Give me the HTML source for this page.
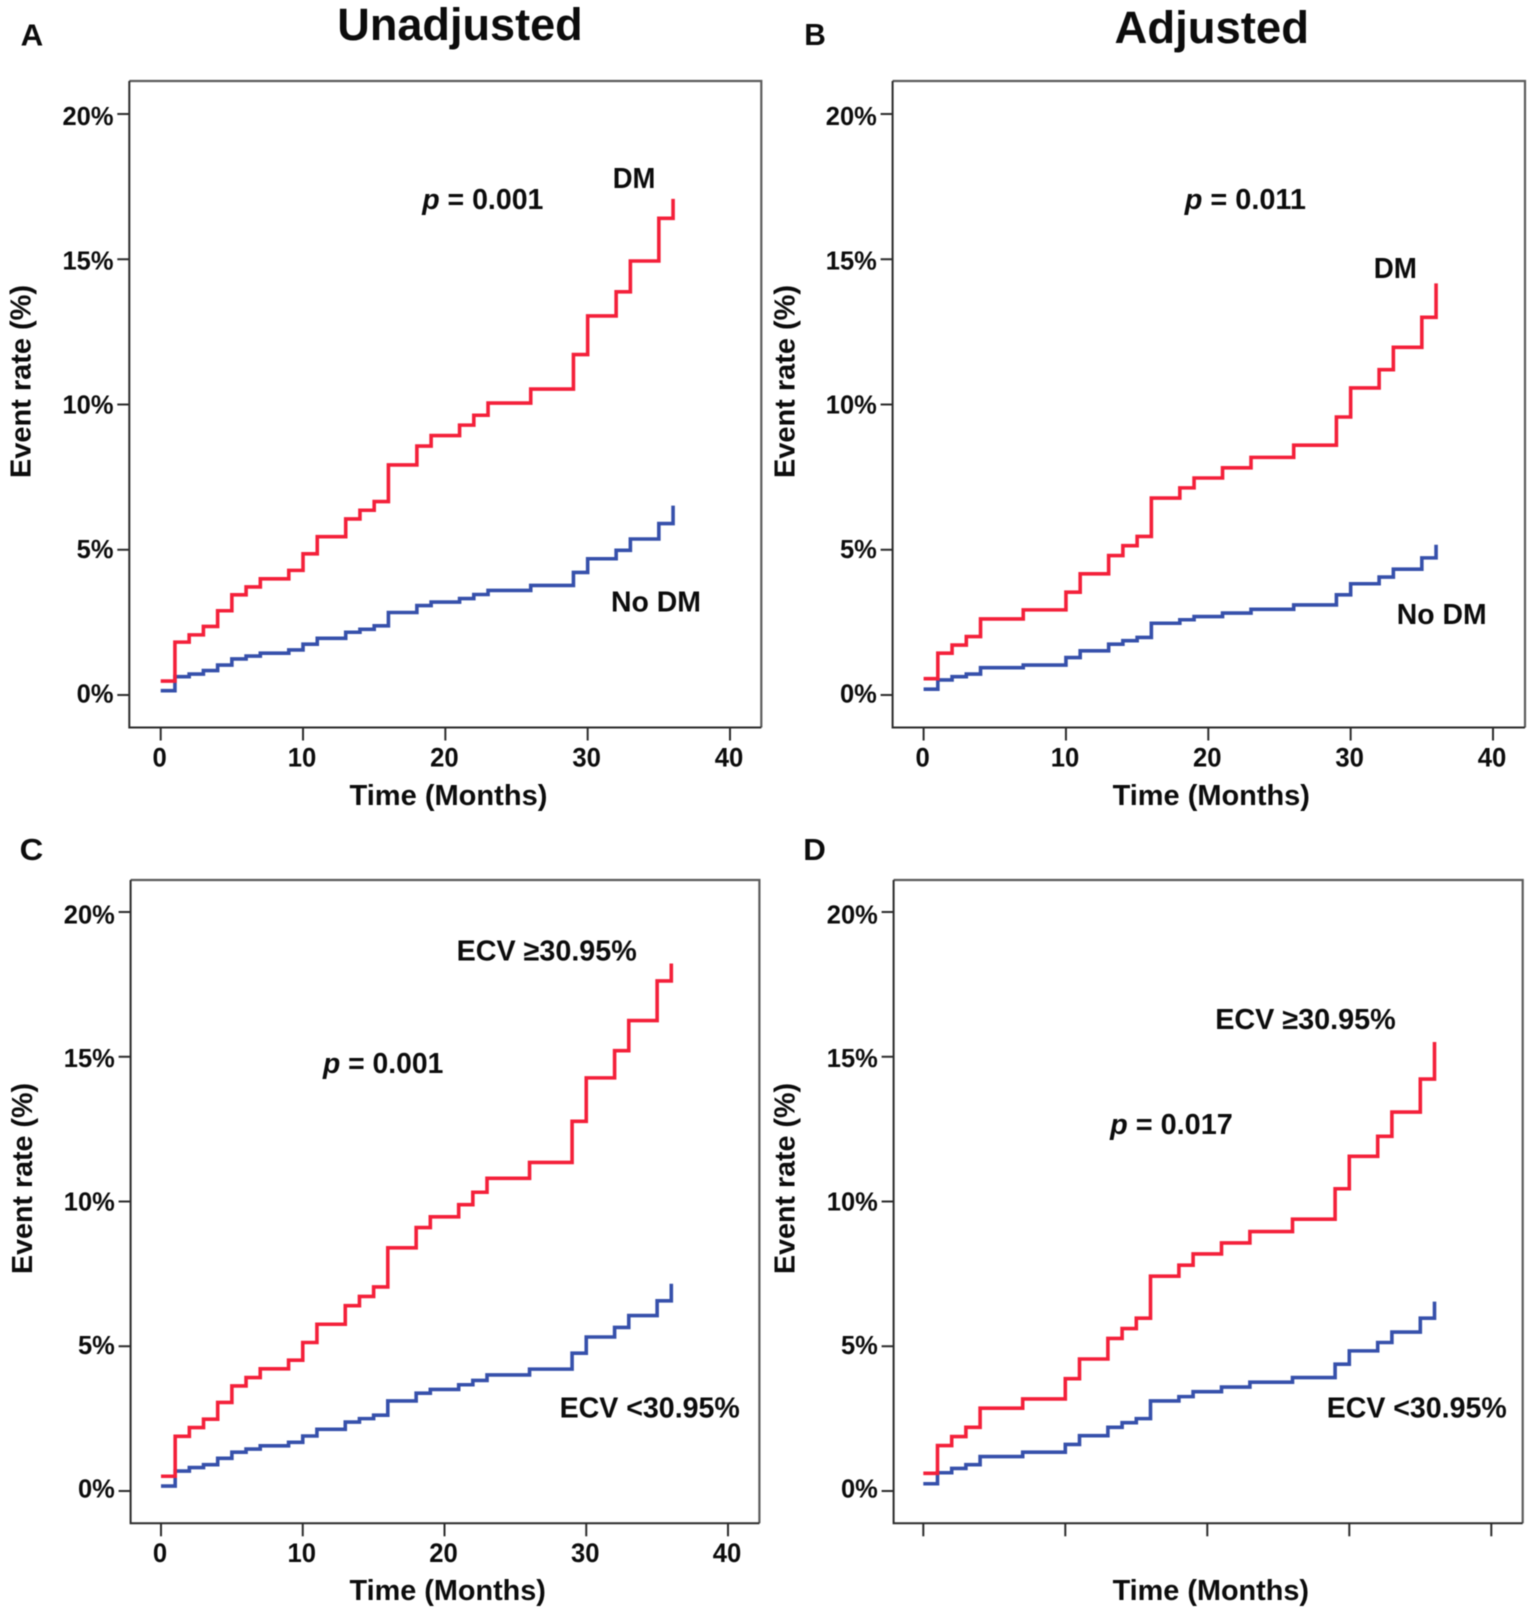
<!DOCTYPE html>
<html lang="en">
<head>
<meta charset="utf-8">
<title>Event rate curves</title>
<style>
html,body{margin:0;padding:0;background:#fff;}
svg{display:block;filter:blur(0.45px);}
text{font-family:"Liberation Sans",Arial,sans-serif;font-weight:bold;fill:#0c0c0c;}
.title{font-size:45px;}
.letter{font-size:31px;}
.anno{font-size:29px;}
.axt{font-size:29px;}
.yt{font-size:28.5px;}
</style>
</head>
<body>
<svg id="figure" xmlns="http://www.w3.org/2000/svg" width="1535" height="1617" viewBox="0 0 1535 1617">
  <rect x="0" y="0" width="1535" height="1617" fill="#ffffff"/>

  <text class="title" x="337.3" y="40" textLength="245.4" lengthAdjust="spacingAndGlyphs">Unadjusted</text>
  <text class="title" x="1114.5" y="43" textLength="194.5" lengthAdjust="spacingAndGlyphs">Adjusted</text>
  <text class="letter" x="20.6" y="45.5" textLength="22.6" lengthAdjust="spacingAndGlyphs">A</text>
  <text class="letter" x="804.3" y="45" textLength="21.6" lengthAdjust="spacingAndGlyphs">B</text>
  <text class="letter" x="19.6" y="860" textLength="23.6" lengthAdjust="spacingAndGlyphs">C</text>
  <text class="letter" x="803.3" y="860" textLength="22.6" lengthAdjust="spacingAndGlyphs">D</text>

  <g id="panel-a">
    <path id="a-blue" fill="none" stroke="#3650ab" stroke-width="3.6"/>
    <path id="a-red" fill="none" stroke="#f4203a" stroke-width="3.6"/>
    <text class="anno" x="422.2" y="209" textLength="121.2" lengthAdjust="spacingAndGlyphs"><tspan font-style="italic">p</tspan> = 0.001</text>
    <text class="anno" x="612.7" y="188" textLength="42.7" lengthAdjust="spacingAndGlyphs">DM</text>
    <text class="anno" x="611" y="611.5" textLength="90" lengthAdjust="spacingAndGlyphs">No DM</text>
    <text class="axt" x="349.5" y="805" textLength="197.9" lengthAdjust="spacingAndGlyphs">Time (Months)</text>
    <text class="yt" transform="translate(30.4,478) rotate(-90)" textLength="193" lengthAdjust="spacingAndGlyphs">Event rate (%)</text>
  </g>

  <g id="panel-b">
    <path id="b-blue" fill="none" stroke="#3650ab" stroke-width="3.6"/>
    <path id="b-red" fill="none" stroke="#f4203a" stroke-width="3.6"/>
    <text class="anno" x="1184.7" y="209" textLength="121.3" lengthAdjust="spacingAndGlyphs"><tspan font-style="italic">p</tspan> = 0.011</text>
    <text class="anno" x="1373.7" y="278" textLength="43.2" lengthAdjust="spacingAndGlyphs">DM</text>
    <text class="anno" x="1396.8" y="624" textLength="89.8" lengthAdjust="spacingAndGlyphs">No DM</text>
    <text class="axt" x="1112.6" y="805" textLength="197.3" lengthAdjust="spacingAndGlyphs">Time (Months)</text>
    <text class="yt" transform="translate(794.5,478) rotate(-90)" textLength="193" lengthAdjust="spacingAndGlyphs">Event rate (%)</text>
  </g>

  <g id="panel-c">
    <path id="c-blue" fill="none" stroke="#3650ab" stroke-width="3.6"/>
    <path id="c-red" fill="none" stroke="#f4203a" stroke-width="3.6"/>
    <text class="anno" x="323" y="1073" textLength="120.3" lengthAdjust="spacingAndGlyphs"><tspan font-style="italic">p</tspan> = 0.001</text>
    <text class="anno" x="456.6" y="960.5" textLength="180.2" lengthAdjust="spacingAndGlyphs">ECV ≥30.95%</text>
    <text class="anno" x="559.6" y="1417.3" textLength="180.2" lengthAdjust="spacingAndGlyphs">ECV &lt;30.95%</text>
    <text class="axt" x="349.5" y="1600" textLength="196.4" lengthAdjust="spacingAndGlyphs">Time (Months)</text>
    <text class="yt" transform="translate(31.9,1274) rotate(-90)" textLength="191" lengthAdjust="spacingAndGlyphs">Event rate (%)</text>
  </g>

  <g id="panel-d">
    <path id="d-blue" fill="none" stroke="#3650ab" stroke-width="3.6"/>
    <path id="d-red" fill="none" stroke="#f4203a" stroke-width="3.6"/>
    <text class="anno" x="1110.1" y="1134" textLength="122.7" lengthAdjust="spacingAndGlyphs"><tspan font-style="italic">p</tspan> = 0.017</text>
    <text class="anno" x="1215.2" y="1029" textLength="180.6" lengthAdjust="spacingAndGlyphs">ECV ≥30.95%</text>
    <text class="anno" x="1326.7" y="1417.3" textLength="180" lengthAdjust="spacingAndGlyphs">ECV &lt;30.95%</text>
    <text class="axt" x="1112.6" y="1600" textLength="196.4" lengthAdjust="spacingAndGlyphs">Time (Months)</text>
    <text class="yt" transform="translate(794.5,1274) rotate(-90)" textLength="191" lengthAdjust="spacingAndGlyphs">Event rate (%)</text>
  </g>
</svg>

<script>
// Data
const xTickValues = [0, 10, 20, 30, 40];
const xTickLabels = ['0', '10', '20', '30', '40'];
const yTickValues = [0, 5, 10, 15, 20];
const yTickLabels = ['0%', '5%', '10%', '15%', '20%'];

const monthsUnadjusted = [0,1,2,3,4,5,6,7,9,10,11,13,14,15,16,18,19,21,22,23,26,29,30,32,33,35,36];
const monthsAdjusted = [0,1,2,3,4,7,10,11,13,14,15,16,18,19,21,23,26,29,30,32,33,35,36];

const panelARed = [0.48,1.82,2.07,2.36,2.90,3.45,3.72,4.00,4.29,4.86,5.45,6.06,6.36,6.66,7.92,8.57,8.93,9.29,9.63,10.05,10.53,11.72,13.05,13.88,14.94,16.41,17.08];
const panelABlue = [0.15,0.63,0.72,0.84,1.03,1.24,1.34,1.44,1.55,1.75,1.95,2.16,2.26,2.38,2.84,3.08,3.20,3.32,3.46,3.60,3.77,4.22,4.69,4.98,5.37,5.90,6.52];

const panelBRed = [0.56,1.44,1.72,2.01,2.62,2.93,3.54,4.17,4.80,5.14,5.46,6.78,7.13,7.47,7.82,8.18,8.60,9.57,10.57,11.20,11.97,13.00,14.17];
const panelBBlue = [0.20,0.52,0.63,0.72,0.94,1.03,1.29,1.52,1.75,1.87,1.98,2.47,2.59,2.70,2.82,2.95,3.10,3.45,3.83,4.06,4.33,4.72,5.17];

const panelCRed = [0.51,1.89,2.19,2.48,3.06,3.63,3.92,4.22,4.52,5.13,5.76,6.40,6.72,7.05,8.40,9.10,9.47,9.89,10.32,10.80,11.35,12.77,14.27,15.21,16.25,17.62,18.22];
const panelCBlue = [0.17,0.69,0.81,0.91,1.13,1.34,1.45,1.56,1.68,1.90,2.13,2.38,2.50,2.62,3.11,3.38,3.51,3.67,3.82,4.01,4.21,4.76,5.32,5.65,6.06,6.57,7.16];

const panelDRed = [0.61,1.57,1.88,2.20,2.86,3.18,3.88,4.56,5.27,5.61,5.97,7.42,7.80,8.19,8.57,8.96,9.39,10.44,11.56,12.25,13.09,14.23,15.51];
const panelDBlue = [0.25,0.63,0.78,0.91,1.19,1.34,1.61,1.91,2.20,2.36,2.50,3.11,3.26,3.43,3.59,3.76,3.92,4.38,4.84,5.13,5.49,5.97,6.54];

const SVG_NS = 'http://www.w3.org/2000/svg';

function makeScale(domain0, pixel0, domain1, pixel1) {
  return function (v) {
    return pixel0 + (v - domain0) * (pixel1 - pixel0) / (domain1 - domain0);
  };
}

function stepPath(months, values, xScale, yScale) {
  let d = 'M' + xScale(months[0]).toFixed(2) + ' ' + yScale(values[0]).toFixed(2);
  for (let i = 1; i < months.length; i++) {
    d += 'H' + xScale(months[i]).toFixed(2) + 'V' + yScale(values[i]).toFixed(2);
  }
  return d;
}

function drawPanel(id, box, xScale, yScale, yLabelBaseline, xLabelBaseline, showXLabels, months, redValues, blueValues) {
  const group = document.getElementById(id);
  const firstChild = group.firstChild;

  const frameTopRight = document.createElementNS(SVG_NS, 'path');
  
  
  frameTopRight.setAttribute('d', 'M' + box.left + ' ' + box.top + 'H' + box.right + 'V' + box.bottom);
  frameTopRight.setAttribute('fill', 'none');
  frameTopRight.setAttribute('stroke', '#5c5c5c');
  frameTopRight.setAttribute('stroke-width', '2.2');
  group.insertBefore(frameTopRight, firstChild);

  const frameLeftBottom = document.createElementNS(SVG_NS, 'path');
  
  
  frameLeftBottom.setAttribute('d', 'M' + box.left + ' ' + box.top + 'V' + box.bottom + 'H' + box.right);
  frameLeftBottom.setAttribute('fill', 'none');
  frameLeftBottom.setAttribute('stroke', '#2b2b2b');
  frameLeftBottom.setAttribute('stroke-width', '2');
  group.insertBefore(frameLeftBottom, firstChild);

  yTickValues.forEach(function (value, i) {
    const tick = document.createElementNS(SVG_NS, 'line');
    
    
    tick.setAttribute('x1', box.left - 12);
    tick.setAttribute('x2', box.left);
    tick.setAttribute('y1', yScale(value));
    tick.setAttribute('y2', yScale(value));
    tick.setAttribute('stroke', '#2b2b2b');
    tick.setAttribute('stroke-width', '2');
    group.appendChild(tick);

    const label = document.createElementNS(SVG_NS, 'text');
    
    
    label.setAttribute('transform', 'translate(' + (box.left - 15.8) + ',' + yLabelBaseline(value) + ') scale(0.98,1)');
    label.setAttribute('text-anchor', 'end');
    label.setAttribute('font-size', '26');
    label.textContent = yTickLabels[i];
    group.appendChild(label);
  });

  xTickValues.forEach(function (value, i) {
    const tick = document.createElementNS(SVG_NS, 'line');
    
    
    tick.setAttribute('x1', xScale(value));
    tick.setAttribute('x2', xScale(value));
    tick.setAttribute('y1', box.bottom);
    tick.setAttribute('y2', box.bottom + 13);
    tick.setAttribute('stroke', '#2b2b2b');
    tick.setAttribute('stroke-width', '2');
    group.appendChild(tick);

    if (showXLabels) {
      const label = document.createElementNS(SVG_NS, 'text');
      
      
      label.setAttribute('transform', 'translate(' + (xScale(value) - 1) + ',' + xLabelBaseline + ') scale(0.95,1)');
      label.setAttribute('text-anchor', 'middle');
      label.setAttribute('font-size', '27');
      label.textContent = xTickLabels[i];
      group.appendChild(label);
    }
  });

  document.getElementById(id.slice(-1) + '-blue').setAttribute('d', stepPath(months, blueValues, xScale, yScale));
  document.getElementById(id.slice(-1) + '-red').setAttribute('d', stepPath(months, redValues, xScale, yScale));
}

drawPanel('panel-a',
  {left: 129.3, right: 761.3, top: 81, bottom: 727.5},
  makeScale(0, 160.7, 40, 730), makeScale(0, 695, 20, 114), makeScale(0, 702.3, 20, 125),
  766.7, true, monthsUnadjusted, panelARed, panelABlue);

drawPanel('panel-b',
  {left: 892.6, right: 1525, top: 81, bottom: 727.5},
  makeScale(0, 923.6, 40, 1493), makeScale(0, 695, 20, 114), makeScale(0, 702.3, 20, 125),
  766.7, true, monthsAdjusted, panelBRed, panelBBlue);

drawPanel('panel-c',
  {left: 130.6, right: 759.4, top: 880, bottom: 1523.3},
  makeScale(0, 161, 40, 728), makeScale(0, 1491, 20, 912), makeScale(0, 1497.7, 20, 923.3),
  1562, true, monthsUnadjusted, panelCRed, panelCBlue);

drawPanel('panel-d',
  {left: 893.6, right: 1522.7, top: 880, bottom: 1523.3},
  makeScale(0, 923.3, 40, 1491.3), makeScale(0, 1491, 20, 912), makeScale(0, 1497.7, 20, 923.3),
  1562, false, monthsAdjusted, panelDRed, panelDBlue);
</script>
</body>
</html>
